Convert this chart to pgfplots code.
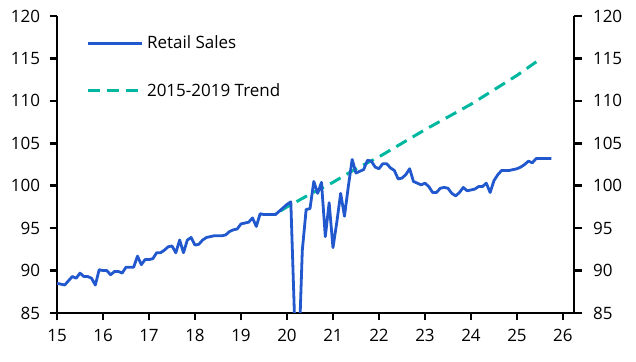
\documentclass[border=0pt]{standalone}
\usepackage{fontspec}
\setmainfont{Open Sans}
\usepackage{pgfplots}
\pgfplotsset{compat=1.18}
\usepackage{pgfplotstable}
\usetikzlibrary{calc}
\definecolor{rsblue}{RGB}{33,88,205}
\definecolor{trendteal}{RGB}{0,184,160}

\pgfplotstableread{
m v
0 88.5
1 88.4
2 88.3
3 88.8
4 89.3
5 89.1
6 89.7
7 89.3
8 89.3
9 89.1
10 88.3
11 90.1
12 90.0
13 90.0
14 89.5
15 89.9
16 89.9
17 89.7
18 90.4
19 90.4
20 90.4
21 91.7
22 90.7
23 91.3
24 91.3
25 91.4
26 92.1
27 92.1
28 92.4
29 92.8
30 92.9
31 92.1
32 93.6
33 92.1
34 93.6
35 93.9
36 93.0
37 93.1
38 93.6
39 93.9
40 94.0
41 94.1
42 94.1
43 94.1
44 94.2
45 94.6
46 94.8
47 94.9
48 95.5
49 95.6
50 95.7
51 96.2
52 95.2
53 96.7
54 96.6
55 96.6
56 96.6
57 96.6
58 97.0
59 97.4
60 97.8
61 98.1
62 84.0
63 79.0
64 92.4
65 97.2
66 97.3
67 100.5
68 99.1
69 100.4
70 94.0
71 98.0
72 92.7
73 95.7
74 99.1
75 96.4
76 99.9
77 103.1
78 101.5
79 101.7
80 101.9
81 103.0
82 102.9
83 102.2
84 102.0
85 102.6
86 102.6
87 102.1
88 101.8
89 100.8
90 100.9
91 101.3
92 102.0
93 100.5
94 100.3
95 100.1
96 100.3
97 99.9
98 99.2
99 99.2
100 99.7
101 99.8
102 99.7
103 99.1
104 98.8
105 99.2
106 99.8
107 99.4
108 99.5
109 99.6
110 99.9
111 99.9
112 100.3
113 99.2
114 100.6
115 101.3
116 101.8
117 101.8
118 101.8
119 101.9
120 102.0
121 102.2
122 102.5
123 102.9
124 102.7
125 103.2
126 103.2
127 103.2
128 103.2
129 103.2
}\retail

\pgfplotstableread{
x v
19.85 97.0
20.0 97.5
20.5 99.0
21.0 100.4
21.5 102.0
22.0 103.4
22.5 105.0
23.0 106.6
23.5 108.1
24.0 109.6
24.5 111.3
25.0 113.0
25.42 114.6
}\trend

\begin{document}
\begin{tikzpicture}
\pgfplotsset{
  every tick label/.append style={font=\fontsize{17bp}{20bp}\selectfont},
}
\begin{axis}[
  name=main,
  scale only axis, width=517bp, height=297bp,
  xmin=15, xmax=26.24, ymin=85, ymax=120,
  axis x line*=bottom, axis y line*=left,
  xtick={15,16,...,26}, ytick={85,90,...,120},
  tick align=outside, major tick length=7.5bp,
  axis line style={line width=2.7bp, black},
  every tick/.style={line width=2.7bp, black},
  xticklabel style={yshift=-5bp},
  yticklabel style={xshift=-6bp},
  /pgf/number format/assume math mode=true,
  legend style={draw=none, fill=none, at={(0.05,0.947)}, anchor=north west,
    font=\fontsize{17bp}{20bp}\selectfont, row sep=29bp,
    nodes={inner sep=2bp}},
  legend cell align=left,
  legend image code/.code={\draw[#1] (0bp,0bp) -- (54bp,0bp);},
  reverse legend,
]
\addplot[trendteal, line width=3bp, dash pattern=on 12bp off 7bp] table[x=x, y=v] {\trend};
\addlegendentry{\hspace{2bp}2015-2019 Trend}
\addplot[rsblue, line width=2.8bp, line join=round] table[x expr=15+\thisrow{m}/12, y=v] {\retail};
\addlegendentry{\hspace{2bp}Retail Sales}
\end{axis}
\begin{axis}[
  scale only axis, width=517bp, height=297bp,
  xmin=15, xmax=26.24, ymin=85, ymax=120,
  axis x line=none, axis y line*=right,
  ytick={85,90,...,120},
  tick align=outside, major tick length=7.5bp,
  axis line style={line width=2.7bp, black},
  every tick/.style={line width=2.7bp, black},
  yticklabel style={xshift=8bp},
  /pgf/number format/assume math mode=true,
]
\end{axis}
\pgfresetboundingbox
\path ($(main.south west)+(-57bp,-49bp)$) rectangle ($(main.north east)+(62bp,16bp)$);
\end{tikzpicture}
\end{document}
